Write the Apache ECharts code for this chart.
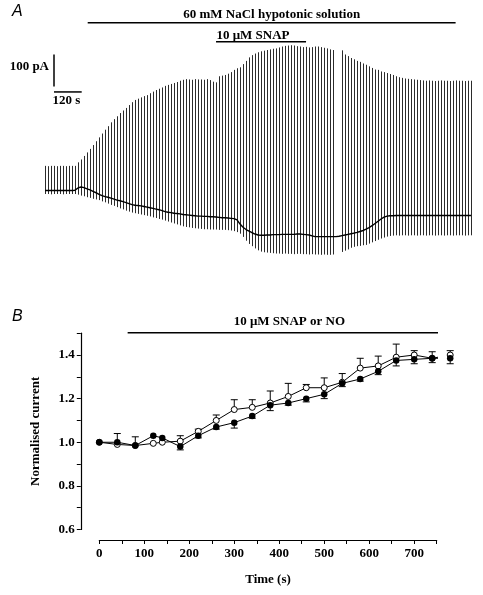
<!DOCTYPE html>
<html><head><meta charset="utf-8">
<script src="https://cdn.jsdelivr.net/npm/echarts@6/dist/echarts.min.js"></script>
<style>html,body{margin:0;padding:0;background:#fff}#c{width:483px;height:595px}</style>
</head><body><div id="c"></div>
<script>
// ---------- Panel A: whole-cell current trace ----------
const sweepInterval = 13; // s between voltage ramps
const sweepTop = [
77,76,77,77,76,77,77,76,77,77,77,
88,97,108,119,130,142,154,166,178,190,
201,213,223,232,242,250,258,267,276,283,
287,291,295,298,304,309,314,318,322,327,
330,333,336,339,343,346,348,347,346,348,
347,347,346,348,345,340,338,357,359,361,
365,370,377,382,385,395,405,416,423,428,
432,435,437,439,441,443,444,447,450,452,
453,454,453,451,450,448,449,447,448,450,
450,448,446,444,441,439,null,null,438,425,
420,414,410,405,402,397,393,388,383,378,
377,372,370,367,364,361,357,354,352,350,
349,348,347,346,345,344,343,344,343,342,
343,344,343,343,342,343,344,343,343,342,343,343];
const sweepBottom = [
-11,-11,-12,-11,-11,-11,-12,-11,-11,-11,-11,
-13,-16,-18,-21,-23,-26,-28,-30,-34,-37,
-41,-45,-48,-52,-56,-59,-63,-66,-69,-71,
-73,-75,-77,-79,-81,-84,-86,-89,-91,-94,
-97,-100,-103,-106,-109,-112,-114,-115,-117,-118,
-119,-120,-121,-121,-122,-122,-122,-123,-123,-123,
-124,-125,-127,-130,-135,-145,-157,-167,-174,-181,
-187,-191,-193,-194,-195,-196,-197,-197,-198,-197,
-198,-198,-199,-198,-198,-199,-199,-200,-199,-200,
-200,-201,-200,-201,-201,-200,null,null,-192,-188,
-184,-179,-176,-174,-173,-171,-170,-166,-162,-158,
-154,-150,-147,-144,-142,-141,-140,-141,-140,-140,
-141,-140,-140,-141,-140,-140,-141,-140,-140,-141,
-140,-140,-141,-140,-140,-141,-140,-140,-140,-141,-140,-140];
const holdingCurrent = [
0,0,0,0,0,0,0,0,0,0,1,
8,11,9,5,2,-3,-7,-12,-16,-19,
-21,-24,-27,-30,-32,-35,-38,-41,-44,-46,
-47,-48,-50,-52,-54,-56,-58,-60,-63,-66,
-68,-69,-71,-72,-73,-75,-76,-77,-78,-79,
-80,-80,-81,-81,-82,-82,-83,-84,-85,-85,
-86,-87,-88,-92,-105,-115,-122,-127,-132,-136,
-139,-140,-140,-139,-139,-138,-138,-138,-137,-137,
-137,-137,-137,-136,-136,-137,-138,-139,-142,-144,
-144,-144,-144,-144,-144,-144,-144,-143,-141,-139,
-137,-135,-133,-131,-128,-125,-121,-116,-110,-103,
-96,-89,-83,-80,-79,-79,-78,-78,-78,-78,
-78,-78,-78,-78,-78,-78,-78,-78,-78,-78,
-78,-78,-78,-78,-78,-78,-78,-78,-78,-78,-78,-78];
const naclBar = [185, 1779];   // s
const snapBarA = [741, 1131];  // s
const scaleBarTime = 120;      // s
const scaleBarCurrent = 100;   // pA

// ---------- Panel B: normalised current ----------
const timeB = [0,40,80,120,140,180,220,260,300,340,380,420,460,500,540,580,620,660,700,740,780];
const openMean = [1.00,0.99,0.985,0.995,1.00,1.005,1.05,1.10,1.15,1.16,1.18,1.21,1.25,1.25,1.275,1.34,1.35,1.39,1.40,1.385,1.40];
const openSem  = [0,0.05,0.04,0,0,0.025,0.01,0.025,0.045,0.035,0.055,0.06,0.015,0.045,0.04,0.045,0.045,0.06,0.02,0.03,0.02];
const filledMean = [1.00,1.00,0.985,1.03,1.02,0.98,1.03,1.07,1.09,1.12,1.17,1.18,1.20,1.22,1.27,1.29,1.325,1.375,1.38,1.385,1.385];
const filledSem  = [0,0,0,0,0,0.015,0.01,0.01,0.025,0.01,0.025,0.01,0.015,0.02,0.015,0.01,0.015,0.025,0.02,0.02,0.025];
const snapBarB = [63, 782];
const yTicksB = [0.6,0.8,1.0,1.2,1.4];
const xTicksB = [0,100,200,300,400,500,600,700];

const serif = '"Liberation Serif","Times New Roman",serif';
const txt = {fontFamily: serif, fontWeight: 'bold', fontSize: 13, fill: '#000'};

const chart = echarts.init(document.getElementById('c'));

const sweepData = [];
sweepTop.forEach((top, i) => { if (top != null) sweepData.push([i * sweepInterval, sweepBottom[i], top]); });
const holdData = holdingCurrent.map((v, i) => [i * sweepInterval, v]);

function errSeries(mean, sem, dir) {
  return {
    type: 'custom', xAxisIndex: 1, yAxisIndex: 1, clip: false, silent: true, z: 1,
    data: timeB.map((t, i) => [t, mean[i], sem[i]]).filter(d => d[2] > 0),
    renderItem: (p, api) => {
      const t = api.value(0), m = api.value(1), e = api.value(2);
      const a = api.coord([t, m]), b = api.coord([t, m + dir * e]);
      return {type: 'group', children: [
        {type: 'line', shape: {x1: a[0], y1: a[1], x2: b[0], y2: b[1]}, style: {stroke: '#000', lineWidth: 1}},
        {type: 'line', shape: {x1: b[0] - 3.5, y1: b[1], x2: b[0] + 3.5, y2: b[1]}, style: {stroke: '#000', lineWidth: 1}}
      ]};
    }
  };
}

const axisTxt = {color: '#000', fontFamily: serif, fontWeight: 'bold', fontSize: 13};

chart.setOption({
  animation: false,
  backgroundColor: '#fff',
  grid: [
    {left: 45, width: 427, top: 11.3, height: 275.2},
    {left: 99.3, width: 337.4, top: 333.2, height: 196.3}
  ],
  xAxis: [
    {gridIndex: 0, type: 'value', min: 0, max: 1850, show: false},
    {gridIndex: 1, type: 'value', min: 0, max: 750, interval: 50, offset: 10.5,
     axisLine: {show: true, onZero: false, lineStyle: {color: '#000', width: 1.2}},
     axisTick: {show: true, length: 4, lineStyle: {color: '#000', width: 1}},
     axisLabel: Object.assign({margin: 7, formatter: v => (xTicksB.includes(v) ? String(v) : '')}, axisTxt),
     splitLine: {show: false},
     name: 'Time (s)', nameLocation: 'middle', nameGap: 33, nameTextStyle: axisTxt}
  ],
  yAxis: [
    {gridIndex: 0, type: 'value', min: -300, max: 560, show: false},
    {gridIndex: 1, type: 'value', min: 0.6, max: 1.5, interval: 0.1, offset: 18.5,
     axisLine: {show: true, onZero: false, lineStyle: {color: '#000', width: 1.2}},
     axisTick: {show: true, length: 4, lineStyle: {color: '#000', width: 1}},
     axisLabel: Object.assign({margin: 6, formatter: v => {
       const k = Math.round(v * 10) / 10;
       return yTicksB.some(t => Math.abs(t - k) < 1e-6) ? k.toFixed(1) : '';
     }}, axisTxt),
     splitLine: {show: false},
     name: 'Normalised current', nameLocation: 'middle', nameGap: 39, nameTextStyle: axisTxt}
  ],
  series: [
    {type: 'custom', xAxisIndex: 0, yAxisIndex: 0, clip: false, silent: true, data: sweepData,
     renderItem: (p, api) => {
       const a = api.coord([api.value(0), api.value(1)]);
       const b = api.coord([api.value(0), api.value(2)]);
       const x = Math.round(a[0]) + 0.5;
       return {type: 'line', shape: {x1: x, y1: a[1], x2: x, y2: b[1]}, style: {stroke: '#2b2b2b', lineWidth: 1}};
     }},
    {type: 'line', xAxisIndex: 0, yAxisIndex: 0, data: holdData, symbol: 'none', clip: false,
     lineStyle: {color: '#000', width: 1.4}, z: 3},
    {type: 'line', xAxisIndex: 0, yAxisIndex: 0, symbol: 'none', clip: false,
     data: [[naclBar[0], 524], [naclBar[1], 524]], lineStyle: {color: '#000', width: 1.5}},
    {type: 'line', xAxisIndex: 0, yAxisIndex: 0, symbol: 'none', clip: false,
     data: [[snapBarA[0], 465], [snapBarA[1], 465]], lineStyle: {color: '#000', width: 1.5}},
    {type: 'line', xAxisIndex: 0, yAxisIndex: 0, symbol: 'none', clip: false,
     data: [[39, 325 + scaleBarCurrent], [39, 325]], lineStyle: {color: '#000', width: 1.5}},
    {type: 'line', xAxisIndex: 0, yAxisIndex: 0, symbol: 'none', clip: false,
     data: [[39, 308], [39 + scaleBarTime, 308]], lineStyle: {color: '#000', width: 1.5}},
    {type: 'line', xAxisIndex: 1, yAxisIndex: 1, symbol: 'none', clip: false,
     data: [[snapBarB[0], 1.5025], [snapBarB[1], 1.5025]], lineStyle: {color: '#000', width: 1.5}},
    errSeries(openMean, openSem, 1),
    errSeries(filledMean, filledSem, -1),
    {type: 'line', xAxisIndex: 1, yAxisIndex: 1, clip: false, z: 3,
     data: timeB.map((t, i) => [t, openMean[i]]),
     symbol: 'circle', symbolSize: 6, showSymbol: true,
     itemStyle: {color: '#fff', borderColor: '#000', borderWidth: 1},
     lineStyle: {color: '#000', width: 1}},
    {type: 'line', xAxisIndex: 1, yAxisIndex: 1, clip: false, z: 4,
     data: timeB.map((t, i) => [t, filledMean[i]]),
     symbol: 'circle', symbolSize: 6.5, showSymbol: true,
     itemStyle: {color: '#000', borderColor: '#000', borderWidth: 0},
     lineStyle: {color: '#000', width: 1}}
  ]
});

const pA = (t, v) => chart.convertToPixel({xAxisIndex: 0, yAxisIndex: 0}, [t, v]);
const pB = (t, v) => chart.convertToPixel({xAxisIndex: 1, yAxisIndex: 1}, [t, v]);
const nacl = pA((naclBar[0] + naclBar[1]) / 2, 524);
const snapA = pA(901, 465);
const vbar = pA(39, 375);
const hbar = pA(39 + scaleBarTime / 2 - 6, 308);
const snapB = pB((snapBarB[0] + snapBarB[1]) / 2, 1.5025);
const T = (x, y, s, extra) => ({type: 'text', x: x, y: y,
  style: Object.assign({}, txt, {text: s, textAlign: 'center', textVerticalAlign: 'middle'}, extra || {})});
chart.setOption({graphic: [
  T(nacl[0], nacl[1] - 8, '60 mM NaCl hypotonic solution'),
  T(snapA[0], snapA[1] - 6, '10 μM SNAP'),
  T(vbar[0] - 5, vbar[1] - 4, '100 pA', {textAlign: 'right'}),
  T(hbar[0], hbar[1] + 9, '120 s'),
  T(snapB[0], snapB[1] - 11, '10 μM SNAP or NO'),
  {type: 'text', left: 12, top: 4, style: {text: 'A', fontFamily: '"Liberation Sans",Arial,sans-serif', fontStyle: 'italic', fontSize: 16, fill: '#000'}},
  {type: 'text', left: 12, top: 309, style: {text: 'B', fontFamily: '"Liberation Sans",Arial,sans-serif', fontStyle: 'italic', fontSize: 16, fill: '#000'}}
]});
</script>
</body></html>
